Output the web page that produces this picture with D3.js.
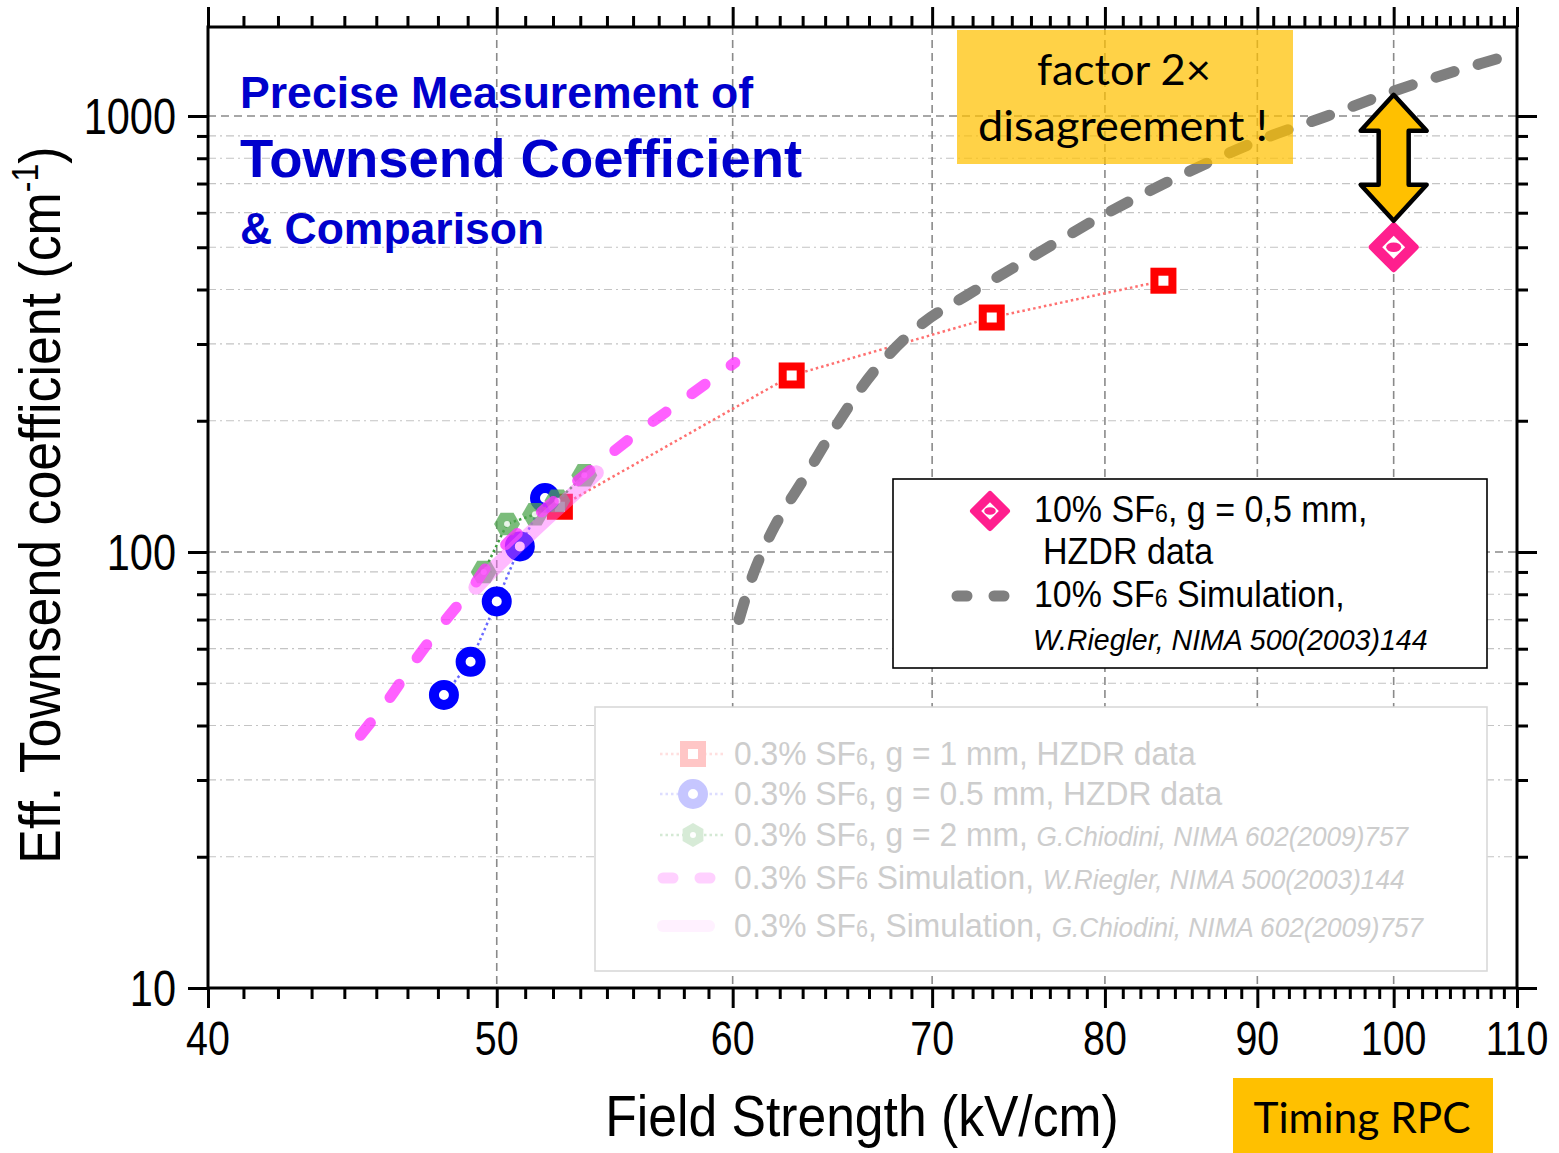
<!DOCTYPE html>
<html>
<head>
<meta charset="utf-8">
<script src="https://cdn.jsdelivr.net/npm/d3@7"></script>
<style>
  html, body { margin: 0; padding: 0; background: #fff; }
  svg { display: block; }
  .narrow { font-family: "Liberation Sans Narrow", "Arial Narrow", "Liberation Sans", Arial, sans-serif; }
  .arial { font-family: "Liberation Sans", Arial, sans-serif; }
  .calibri { font-family: Lato, "Open Sans", sans-serif; }
</style>
</head>
<body>
<svg id="chart" width="1559" height="1153"></svg>
<script>
// ---------------- data ----------------
const xMajorTicks = [40, 50, 60, 70, 80, 90, 100, 110];
const yMajorTicks = [10, 100, 1000];
const yMinorTicks = [20, 30, 40, 50, 60, 70, 80, 90, 200, 300, 400, 500, 600, 700, 800, 900];

// 0.3% SF6, g = 1 mm, HZDR data
const redX = [52.5, 62.8, 73.3, 83.7];
const redY = [127, 254, 345, 419];
// 0.3% SF6, g = 0.5 mm, HZDR data
const blueX = [48.0, 49.0, 50.0, 50.9, 51.9];
const blueY = [47, 56, 77, 103, 133];
// 0.3% SF6, g = 2 mm, Chiodini
const greenX = [49.5, 50.4, 51.5, 52.4, 53.5];
const greenY = [90, 116, 122, 131, 150];
// 0.3% SF6 simulation, Riegler
const magX = [45, 46, 47, 48, 49, 50, 52, 54, 56, 58, 60.1];
const magY = [38, 46, 57, 69, 82, 99, 127, 158, 192, 228, 272];
// 0.3% SF6 simulation, Chiodini
const pinkX = [49.2, 50, 51, 52, 53, 54];
const pinkY = [83, 93, 106, 120, 135, 152];
// 10% SF6 simulation, Riegler
const grayX = [60.3, 61.0, 62.0, 63.5, 65, 67, 69.5, 72, 75, 80, 85, 90, 95, 100, 105, 110];
const grayY = [70, 90, 115, 150, 195, 262, 335, 390, 460, 595, 735, 876, 1000, 1140, 1270, 1394];
// 10% SF6, g = 0.5 mm, HZDR data
const diamondX = [100];
const diamondY = [500];
// arrow between simulation and measurement at 100 kV/cm
const arrowX = 100, arrowTop = 1130, arrowBottom = 575;

// ---------------- layout ----------------
const svg = d3.select("#chart");
const L = 208, R = 1517, T = 27, B = 988;
const x = d3.scaleLog().domain([40, 110]).range([L, R]);
const y = d3.scaleLog().domain([10, 1600]).range([B, T]);

const xMinorTicks = [];
for (let i = 0; i < xMajorTicks.length - 1; i++) {
  for (let k = 1; k <= 8; k++) xMinorTicks.push(xMajorTicks[i] + k * 10 / 9);
}

// condensed text helper (Arial Narrow look)
function ntext(g, tx, ty, size, sx, cls) {
  return g.append("text").attr("class", cls || "narrow")
    .attr("transform", `translate(${tx},${ty}) scale(${sx},1)`).attr("font-size", size);
}

// ---------------- grid ----------------
const grid = svg.append("g");
grid.selectAll(".hmin").data(yMinorTicks).join("line")
  .attr("x1", L).attr("x2", R).attr("y1", d => y(d)).attr("y2", d => y(d))
  .attr("stroke", "#c4c4c4").attr("stroke-width", 1.2).attr("stroke-dasharray", "8 4 2 4");
grid.selectAll(".hmaj").data([100, 1000]).join("line")
  .attr("x1", L).attr("x2", R).attr("y1", d => y(d)).attr("y2", d => y(d))
  .attr("stroke", "#8a8a8a").attr("stroke-width", 1.6).attr("stroke-dasharray", "8 5");
grid.selectAll(".vmaj").data([50, 60, 70, 80, 90, 100]).join("line")
  .attr("y1", T).attr("y2", B).attr("x1", d => x(d)).attr("x2", d => x(d))
  .attr("stroke", "#8a8a8a").attr("stroke-width", 1.6).attr("stroke-dasharray", "8 5");

// faded legend box (covers grid)
const lg2 = svg.append("g");
lg2.append("rect").attr("x", 595).attr("y", 707).attr("width", 892).attr("height", 264)
  .attr("fill", "#fff").attr("stroke", "#d9d9d9").attr("stroke-width", 1.6);

// ---------------- axes ----------------
function styleAxis(g) {
  g.select(".domain").remove();
  g.selectAll("line").attr("stroke", "#000").attr("stroke-width", 3);
  g.selectAll("text").remove();
}
svg.append("g").attr("transform", `translate(0,${B})`).call(d3.axisBottom(x).tickValues(xMajorTicks).tickSize(20).tickFormat("")).call(styleAxis);
svg.append("g").attr("transform", `translate(0,${B})`).call(d3.axisBottom(x).tickValues(xMinorTicks).tickSize(11).tickFormat("")).call(styleAxis);
svg.append("g").attr("transform", `translate(0,${T})`).call(d3.axisTop(x).tickValues(xMajorTicks).tickSize(20).tickFormat("")).call(styleAxis);
svg.append("g").attr("transform", `translate(0,${T})`).call(d3.axisTop(x).tickValues(xMinorTicks).tickSize(11).tickFormat("")).call(styleAxis);
svg.append("g").attr("transform", `translate(${L},0)`).call(d3.axisLeft(y).tickValues(yMajorTicks).tickSize(20).tickFormat("")).call(styleAxis);
svg.append("g").attr("transform", `translate(${L},0)`).call(d3.axisLeft(y).tickValues(yMinorTicks).tickSize(11).tickFormat("")).call(styleAxis);
svg.append("g").attr("transform", `translate(${R},0)`).call(d3.axisRight(y).tickValues(yMajorTicks).tickSize(20).tickFormat("")).call(styleAxis);
svg.append("g").attr("transform", `translate(${R},0)`).call(d3.axisRight(y).tickValues(yMinorTicks).tickSize(11).tickFormat("")).call(styleAxis);

svg.append("rect").attr("x", L).attr("y", T).attr("width", R - L).attr("height", B - T)
  .attr("fill", "none").attr("stroke", "#000").attr("stroke-width", 3);

// tick labels
svg.selectAll(".xl").data(xMajorTicks).join("text").attr("class", "narrow")
  .attr("transform", d => `translate(${x(d)},${B + 67}) scale(0.82,1)`).attr("text-anchor", "middle")
  .attr("font-size", 48).text(d => d);
svg.selectAll(".yl").data(yMajorTicks).join("text").attr("class", "narrow")
  .attr("transform", d => `translate(176,${y(d) + 18}) scale(0.83,1)`).attr("text-anchor", "end")
  .attr("font-size", 50).text(d => d);

// axis titles
ntext(svg, 862, 1136, 58, 0.89).attr("text-anchor", "middle").text("Field Strength (kV/cm)");
const yt = svg.append("text").attr("class", "narrow")
  .attr("transform", "translate(60,505) rotate(-90) scale(0.894,1)").attr("text-anchor", "middle").attr("font-size", 58);
yt.append("tspan").text("Eff. Townsend coefficient (cm");
yt.append("tspan").attr("font-size", 36).attr("dy", -22).text("-1");
yt.append("tspan").attr("dy", 22).text(")");

// ---------------- series ----------------
const plot = svg.append("g");
const lineGen = d3.line().x(d => x(d[0])).y(d => y(d[1]));
const smooth = d3.line().x(d => x(d[0])).y(d => y(d[1])).curve(d3.curveCatmullRom.alpha(0.5));
const zip = (a, b) => a.map((v, i) => [v, b[i]]);

// red
plot.append("path").attr("d", lineGen(zip(redX, redY))).attr("fill", "none")
  .attr("stroke", "#ff7070").attr("stroke-width", 2.5).attr("stroke-dasharray", "2.5 3");
plot.selectAll(".rs").data(zip(redX, redY)).join("rect")
  .attr("x", d => x(d[0]) - 9).attr("y", d => y(d[1]) - 9).attr("width", 18).attr("height", 18)
  .attr("fill", "#fff").attr("stroke", "#ff0000").attr("stroke-width", 8);
// blue
plot.append("path").attr("d", lineGen(zip(blueX, blueY))).attr("fill", "none")
  .attr("stroke", "#6a6aff").attr("stroke-width", 2.5).attr("stroke-dasharray", "2.5 3");
plot.selectAll(".bc").data(zip(blueX, blueY)).join("circle")
  .attr("cx", d => x(d[0])).attr("cy", d => y(d[1])).attr("r", 10)
  .attr("fill", "#fff").attr("stroke", "#0000ff").attr("stroke-width", 10);
// green
plot.append("path").attr("d", lineGen(zip(greenX, greenY))).attr("fill", "none")
  .attr("stroke", "#3e9e3e").attr("stroke-width", 2.5).attr("stroke-dasharray", "2.5 3");
const hex = r => d3.range(6).map(i => [r * Math.cos(i * Math.PI / 3), r * Math.sin(i * Math.PI / 3)]);
const gHex = plot.selectAll(".gh").data(zip(greenX, greenY)).join("g")
  .attr("transform", d => `translate(${x(d[0])},${y(d[1])})`);
gHex.append("polygon").attr("points", hex(13).map(p => p.join(",")).join(" "))
  .attr("fill", "#4fa64f").attr("opacity", 0.75);
gHex.append("circle").attr("r", 3).attr("fill", "#fff").attr("opacity", 0.85);
// magenta dashed
plot.append("path").attr("d", smooth(zip(magX, magY))).attr("fill", "none")
  .attr("stroke", "#ff33ff").attr("stroke-opacity", 0.78).attr("stroke-width", 11)
  .attr("stroke-linecap", "round").attr("stroke-dasharray", "16 32");
// pink solid
plot.append("path").attr("d", smooth(zip(pinkX, pinkY))).attr("fill", "none")
  .attr("stroke", "#ff66ff").attr("stroke-opacity", 0.45).attr("stroke-width", 15)
  .attr("stroke-linecap", "round");

// gray dashed
svg.append("path").attr("d", smooth(zip(grayX, grayY))).attr("fill", "none")
  .attr("stroke", "#7f7f7f").attr("stroke-width", 11)
  .attr("stroke-linecap", "round").attr("stroke-dasharray", "19 25");

// annotation box (semi-transparent overlay)
svg.append("rect").attr("x", 957).attr("y", 30).attr("width", 336).attr("height", 134)
  .attr("fill", "#ffc000").attr("fill-opacity", 0.72);
svg.append("text").attr("class", "calibri").attr("x", 1124).attr("y", 85).attr("text-anchor", "middle")
  .attr("font-size", 42).attr("textLength", 174).attr("lengthAdjust", "spacingAndGlyphs").text("factor 2×");
svg.append("text").attr("class", "calibri").attr("x", 1123).attr("y", 141).attr("text-anchor", "middle")
  .attr("font-size", 42).attr("textLength", 290).attr("lengthAdjust", "spacingAndGlyphs").text("disagreement !");

// diamond marker
function diamond(g, s) {
  g.append("path").attr("d", `M0,${-s}L${s},0L0,${s}L${-s},0Z`)
    .attr("fill", "#ff1f8e").attr("stroke", "#ff1f8e").attr("stroke-width", 6).attr("stroke-linejoin", "round");
  const t = s * 0.52;
  g.append("path").attr("d", `M0,${-t}L${t},0L0,${t}L${-t},0Z`).attr("fill", "#fff");
  g.append("ellipse").attr("rx", s * 0.34).attr("ry", s * 0.22).attr("fill", "#ff1f8e");
}
svg.selectAll(".dm").data(zip(diamondX, diamondY)).join("g")
  .attr("transform", d => `translate(${x(d[0])},${y(d[1])})`)
  .each(function () { diamond(d3.select(this), 22); });

// double arrow
{
  const cx = x(arrowX), ya = y(arrowTop) + 2, yb = y(arrowBottom);
  const hw = 33, sw = 15, hh = 36;
  const pts = [[cx, ya], [cx + hw, ya + hh], [cx + sw, ya + hh], [cx + sw, yb - hh], [cx + hw, yb - hh],
    [cx, yb], [cx - hw, yb - hh], [cx - sw, yb - hh], [cx - sw, ya + hh], [cx - hw, ya + hh]];
  svg.append("polygon").attr("points", pts.map(p => p.join(",")).join(" "))
    .attr("fill", "#ffc000").attr("stroke", "#000").attr("stroke-width", 4.5).attr("stroke-linejoin", "round");
}

// ---------------- titles / annotations ----------------
const blue = "#0000cc";
svg.append("text").attr("class", "arial").attr("x", 240).attr("y", 108).attr("font-weight", "bold")
  .attr("font-size", 44.6).attr("fill", blue).text("Precise Measurement of");
svg.append("text").attr("class", "arial").attr("x", 240).attr("y", 177).attr("font-weight", "bold")
  .attr("font-size", 54.5).attr("fill", blue).text("Townsend Coefficient");
svg.append("text").attr("class", "arial").attr("x", 240).attr("y", 244).attr("font-weight", "bold")
  .attr("font-size", 44.5).attr("fill", blue).text("& Comparison");

svg.append("rect").attr("x", 1233).attr("y", 1078).attr("width", 260).attr("height", 75).attr("fill", "#ffc000");
svg.append("text").attr("class", "calibri").attr("x", 1362).attr("y", 1133).attr("text-anchor", "middle")
  .attr("font-size", 42).attr("textLength", 217).attr("lengthAdjust", "spacingAndGlyphs").text("Timing RPC");

// ---------------- legend 1 ----------------
const lg1 = svg.append("g");
lg1.append("rect").attr("x", 893).attr("y", 479).attr("width", 594).attr("height", 189)
  .attr("fill", "#fff").attr("stroke", "#000").attr("stroke-width", 1.6);
diamond(lg1.append("g").attr("transform", "translate(990,511)"), 17);
function sfText(g, xx, yy, size, sx, color, pre, post, italic, italicSize) {
  const t = ntext(g, xx, yy, size, sx).attr("fill", color);
  t.append("tspan").text(pre);
  t.append("tspan").attr("font-size", size * 0.68).text("6");
  t.append("tspan").text(post);
  if (italic) t.append("tspan").attr("font-style", "italic").attr("font-size", italicSize).text(italic);
  return t;
}
sfText(lg1, 1034, 522, 37, 0.92, "#000", "10% SF", ", g = 0,5 mm,");
ntext(lg1, 1043, 564, 37, 0.92).text("HZDR data");
lg1.append("line").attr("x1", 957).attr("x2", 1014).attr("y1", 596).attr("y2", 596)
  .attr("stroke", "#7f7f7f").attr("stroke-width", 11).attr("stroke-linecap", "round").attr("stroke-dasharray", "10 27");
sfText(lg1, 1034, 607, 37, 0.917, "#000", "10% SF", " Simulation,");
ntext(lg1, 1033, 650, 29, 0.985).attr("font-style", "italic").text("W.Riegler, NIMA 500(2003)144");

// ---------------- legend 2 (faded) ----------------
const fc = "#cdcdcd";
const sym = lg2.append("g").attr("opacity", 0.22);
sym.append("line").attr("x1", 660).attr("x2", 726).attr("y1", 754).attr("y2", 754)
  .attr("stroke", "#ff7070").attr("stroke-width", 2.5).attr("stroke-dasharray", "2.5 3");
sym.append("rect").attr("x", 684).attr("y", 745).attr("width", 18).attr("height", 18)
  .attr("fill", "#fff").attr("stroke", "#ff0000").attr("stroke-width", 8);
sym.append("line").attr("x1", 660).attr("x2", 726).attr("y1", 794).attr("y2", 794)
  .attr("stroke", "#6a6aff").attr("stroke-width", 2.5).attr("stroke-dasharray", "2.5 3");
sym.append("circle").attr("cx", 693).attr("cy", 794).attr("r", 10)
  .attr("fill", "#fff").attr("stroke", "#0000ff").attr("stroke-width", 10);
sym.append("line").attr("x1", 660).attr("x2", 726).attr("y1", 835).attr("y2", 835)
  .attr("stroke", "#3e9e3e").attr("stroke-width", 2.5).attr("stroke-dasharray", "2.5 3");
sym.append("polygon").attr("transform", "translate(693,835) rotate(90)")
  .attr("points", hex(12).map(p => p.join(",")).join(" ")).attr("fill", "#4fa64f");
sym.append("circle").attr("cx", 693).attr("cy", 835).attr("r", 3).attr("fill", "#fff");
sym.append("line").attr("x1", 663).attr("x2", 725).attr("y1", 878).attr("y2", 878)
  .attr("stroke", "#ff33ff").attr("stroke-width", 11).attr("stroke-linecap", "round").attr("stroke-dasharray", "10 27");
sym.append("line").attr("x1", 663).attr("x2", 709).attr("y1", 926).attr("y2", 926)
  .attr("stroke", "#ff99ff").attr("stroke-width", 12).attr("stroke-linecap", "round").attr("opacity", 0.6);

sfText(lg2, 734, 765, 34, 0.935, fc, "0.3% SF", ", g = 1 mm, HZDR data");
sfText(lg2, 734, 805, 34, 0.935, fc, "0.3% SF", ", g = 0.5 mm, HZDR data");
sfText(lg2, 734, 846, 34, 0.935, fc, "0.3% SF", ", g = 2 mm, ", "G.Chiodini, NIMA 602(2009)757", 28);
sfText(lg2, 734, 889, 34, 0.935, fc, "0.3% SF", " Simulation, ", "W.Riegler, NIMA 500(2003)144", 28);
sfText(lg2, 734, 937, 34, 0.935, fc, "0.3% SF", ", Simulation, ", "G.Chiodini, NIMA 602(2009)757", 28);
</script>
</body>
</html>
